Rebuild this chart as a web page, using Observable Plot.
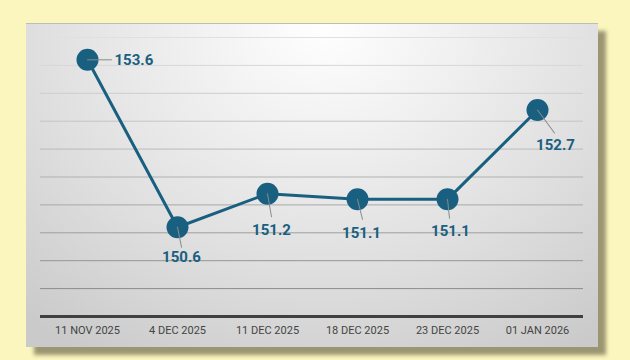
<!DOCTYPE html>
<html><head><meta charset="utf-8">
<script src="https://cdn.jsdelivr.net/npm/d3@7"></script>
<script src="https://cdn.jsdelivr.net/npm/@observablehq/plot@0.6"></script>
<style>
html,body{margin:0;padding:0;background:#fbf6bd;width:630px;height:360px;overflow:hidden;}
#panel{position:absolute;left:26px;top:23px;width:572px;height:323px;border-top:1px solid #bdbdbd;
background:radial-gradient(ellipse 80% 120% at 52% 0%, #ffffff 0%, #f0f0f0 30%, #dedede 65%, #cacaca 100%);
box-shadow:8px 8px 4px #9b9672;}
#chart{position:absolute;left:0;top:0;}
</style></head><body>
<div id="panel"></div><div id="chart"></div>
<script>
const dates = ["11 NOV 2025", "4 DEC 2025", "11 DEC 2025", "18 DEC 2025", "23 DEC 2025", "01 JAN 2026"];
const values = [153.6, 150.6, 151.2, 151.1, 151.1, 152.7];
const gridValues = [149.5, 150, 150.5, 151, 151.5, 152, 152.5, 153, 153.5, 154];
const baseValue = [149];

// label annotation layout (leader end offset and text centre offset, in px)
const labelLayout = [
  {lx: 24, ly: 0, tx: 27, ty: 0, anchor: "start"},
  {lx: 4, ly: 20, tx: 4, ty: 30, anchor: "middle"},
  {lx: 4, ly: 23, tx: 4, ty: 36, anchor: "middle"},
  {lx: 5, ly: 20, tx: 4, ty: 34, anchor: "middle"},
  {lx: 2, ly: 19, tx: 3, ty: 32, anchor: "middle"},
  {lx: 17, ly: 23, tx: 18, ty: 35, anchor: "middle"}
];

const data = dates.map((d, i) => ({date: d, value: values[i]}));
const C = "#195f80";
const gridColor = d3.interpolateRgb("#e0e0e0", "#8c8c8c");
const leader = {draw(ctx, l) { ctx.moveTo(0, 0); ctx.lineTo(0, -l); }};

const marks = [
  ...gridValues.map((g, i) => Plot.ruleY([g], {stroke: gridColor(1 - i / (gridValues.length - 1)), strokeWidth: 1})),
  Plot.ruleY(baseValue, {stroke: "#404040", strokeWidth: 3}),
  Plot.line(data, {x: "date", y: "value", stroke: C, strokeWidth: 3}),
  Plot.dot(data, {x: "date", y: "value", r: 11, fill: C, stroke: "none"}),
  ...data.flatMap((d, i) => {
    const p = labelLayout[i];
    const len = Math.hypot(p.lx, p.ly);
    const rot = Math.atan2(p.lx, -p.ly) * 180 / Math.PI;
    return [
      Plot.vector([d], {x: "date", y: "value", length: len, rotate: rot, anchor: "start", shape: leader, stroke: "#8a8a8a", strokeWidth: 1}),
      Plot.text([d], {x: "date", y: "value", text: dd => dd.value.toFixed(1), dx: p.tx, dy: p.ty, textAnchor: p.anchor,
        fill: C, fontSize: 15, fontWeight: "bold", fontFamily: "Roboto"})
    ];
  })
];

const chart = Plot.plot({
  width: 630, height: 360,
  marginLeft: 40, marginRight: 47, marginTop: 37, marginBottom: 44,
  style: {background: "transparent", fontFamily: "Roboto", fontSize: "11px", color: "#444", overflow: "visible"},
  x: {type: "point", domain: dates, padding: 0.5, label: null, tickSize: 0, tickPadding: 10},
  y: {domain: [149, 154], axis: null},
  marks
});
document.getElementById("chart").appendChild(chart);
</script>
</body></html>
